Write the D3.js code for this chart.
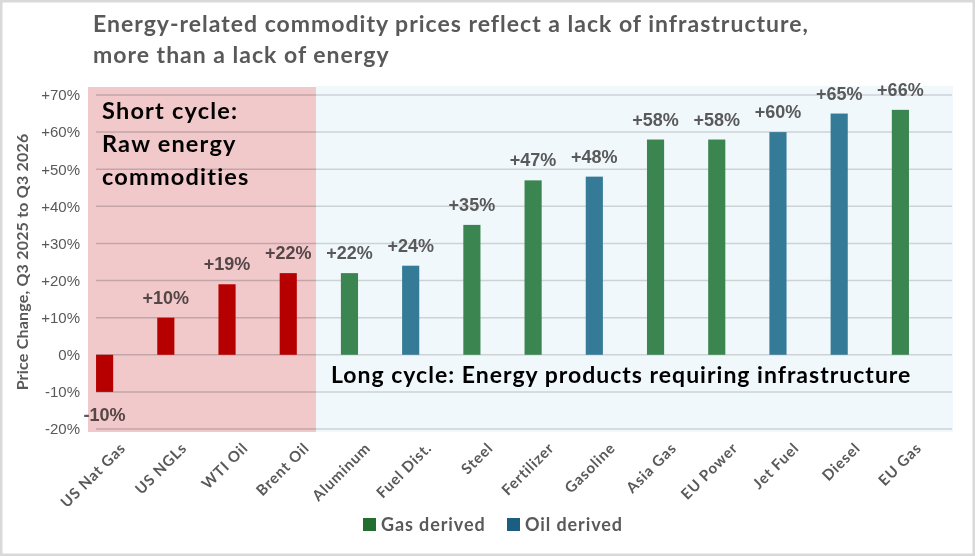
<!DOCTYPE html>
<html>
<head>
<meta charset="utf-8">
<script src="https://cdn.jsdelivr.net/npm/d3@7"></script>
<style>
  html, body { margin: 0; padding: 0; background: #fff; }
  svg { display: block; }
</style>
</head>
<body>
<svg id="chart" width="975" height="556"></svg>
<script>
// data
const categories = ["US Nat Gas", "US NGLs", "WTI Oil", "Brent Oil", "Aluminum", "Fuel Dist.", "Steel",
  "Fertilizer", "Gasoline", "Asia Gas", "EU Power", "Jet Fuel", "Diesel", "EU Gas"];
const values = [-10, 10, 19, 22, 22, 24, 35, 47, 48, 58, 58, 60, 65, 66];
const groups = ["raw", "raw", "raw", "raw", "gas", "oil", "gas", "gas", "oil", "gas", "gas", "oil", "oil", "gas"];
const yTicks = [-20, -10, 0, 10, 20, 30, 40, 50, 60, 70];
const legendItems = [{ key: "gas", label: "Gas derived" }, { key: "oil", label: "Oil derived" }];

const barColor = { raw: "#c00000", gas: "#3b8550", oil: "#357a96" };
const legendColor = { gas: "#226e2e", oil: "#1b5e82" };
const fmt = v => (v > 0 ? "+" : "") + v + "%";

const svg = d3.select("#chart");
const sans = "'Liberation Sans', Arial, sans-serif";
const lato = "Lato, 'Open Sans', sans-serif";

const x = d3.scaleBand().domain(categories).range([74, 931]).paddingInner(0.72).paddingOuter(0.36);
const y = d3.scaleLinear().domain([-20, 70]).range([429, 95]);

// outer frame
svg.append("rect")
  .attr("x", 1.25).attr("y", 1.25).attr("width", 972.5).attr("height", 553.5)
  .attr("fill", "#fff").attr("stroke", "#d9d9d9").attr("stroke-width", 2.5);

// title
svg.append("text")
  .attr("x", 93).attr("y", 32)
  .attr("font-family", lato).attr("font-weight", 700).attr("font-size", 23).attr("fill", "#595959")
  .attr("letter-spacing", 1)
  .selectAll("tspan")
  .data(["Energy-related commodity prices reflect a lack of infrastructure,", "more than a lack of energy"])
  .join("tspan")
  .attr("x", 93).attr("dy", (d, i) => i ? 31 : 0)
  .text(d => d);

// long cycle background
svg.append("rect")
  .attr("x", 316).attr("y", 86).attr("width", 953 - 316).attr("height", 432 - 86)
  .attr("fill", "#f0f8fc");

// gridlines
svg.append("g")
  .selectAll("line")
  .data(yTicks)
  .join("line")
  .attr("x1", 96).attr("x2", 952)
  .attr("y1", d => y(d)).attr("y2", d => y(d))
  .attr("stroke", "#cdd2d5").attr("stroke-width", 1.5);

// y axis
const yAxis = svg.append("g")
  .attr("transform", "translate(82,0)")
  .call(d3.axisLeft(y).tickValues(yTicks).tickFormat(fmt).tickSize(0).tickPadding(2));
yAxis.select(".domain").remove();
yAxis.selectAll("text")
  .attr("font-family", sans).attr("font-size", 15).attr("fill", "#595959");

svg.append("text")
  .attr("transform", `translate(28,${(y(70) + y(-20)) / 2}) rotate(-90)`)
  .attr("text-anchor", "middle")
  .attr("font-family", lato).attr("font-weight", 700).attr("font-size", 16).attr("fill", "#595959")
  .attr("letter-spacing", 0.2)
  .text("Price Change, Q3 2025 to Q3 2026");

// bars
svg.append("g")
  .selectAll("rect")
  .data(categories)
  .join("rect")
  .attr("x", d => x(d))
  .attr("width", x.bandwidth())
  .attr("y", (d, i) => y(Math.max(0, values[i])))
  .attr("height", (d, i) => Math.abs(y(values[i]) - y(0)))
  .attr("fill", (d, i) => barColor[groups[i]]);

// value labels
svg.append("g")
  .selectAll("text")
  .data(categories)
  .join("text")
  .attr("x", d => x(d) + x.bandwidth() / 2)
  .attr("y", (d, i) => values[i] >= 0 ? y(values[i]) - 14 : y(values[i]) + 29)
  .attr("text-anchor", "middle")
  .attr("font-family", sans).attr("font-weight", 700).attr("font-size", 18).attr("fill", "#595959")
  .text((d, i) => fmt(values[i]));

// category labels
svg.append("g")
  .selectAll("text")
  .data(categories)
  .join("text")
  .attr("transform", d => `translate(${x(d) + x.bandwidth() / 2 + 22},449) rotate(-45)`)
  .attr("text-anchor", "end")
  .attr("font-family", lato).attr("font-weight", 700).attr("font-size", 15).attr("fill", "#595959")
  .attr("letter-spacing", 0.8)
  .text(d => d);

// short cycle overlay (multiplied over the marks)
svg.append("rect")
  .attr("x", 88).attr("y", 87).attr("width", 316 - 88).attr("height", 432 - 87)
  .attr("fill", "#f2c9cb")
  .style("mix-blend-mode", "multiply");

// annotations
svg.append("text")
  .attr("font-family", lato).attr("font-weight", 700).attr("font-size", 23.5).attr("fill", "#000")
  .attr("letter-spacing", 1.2)
  .selectAll("tspan")
  .data(["Short cycle:", "Raw energy", "commodities"])
  .join("tspan")
  .attr("x", 102).attr("y", (d, i) => 119 + i * 33)
  .text(d => d);

svg.append("text")
  .attr("x", 331).attr("y", 383)
  .attr("font-family", lato).attr("font-weight", 700).attr("font-size", 23).attr("fill", "#000")
  .attr("letter-spacing", 1)
  .text("Long cycle: Energy products requiring infrastructure");

// legend
const legend = svg.append("g")
  .selectAll("g")
  .data(legendItems)
  .join("g")
  .attr("transform", (d, i) => `translate(${363 + i * 144},518)`);
legend.append("rect")
  .attr("width", 13).attr("height", 13)
  .attr("fill", d => legendColor[d.key]);
legend.append("text")
  .attr("x", 18).attr("y", 12.5)
  .attr("font-family", lato).attr("font-weight", 700).attr("font-size", 18).attr("fill", "#595959")
  .attr("letter-spacing", 0.9)
  .text(d => d.label);
</script>
</body>
</html>
